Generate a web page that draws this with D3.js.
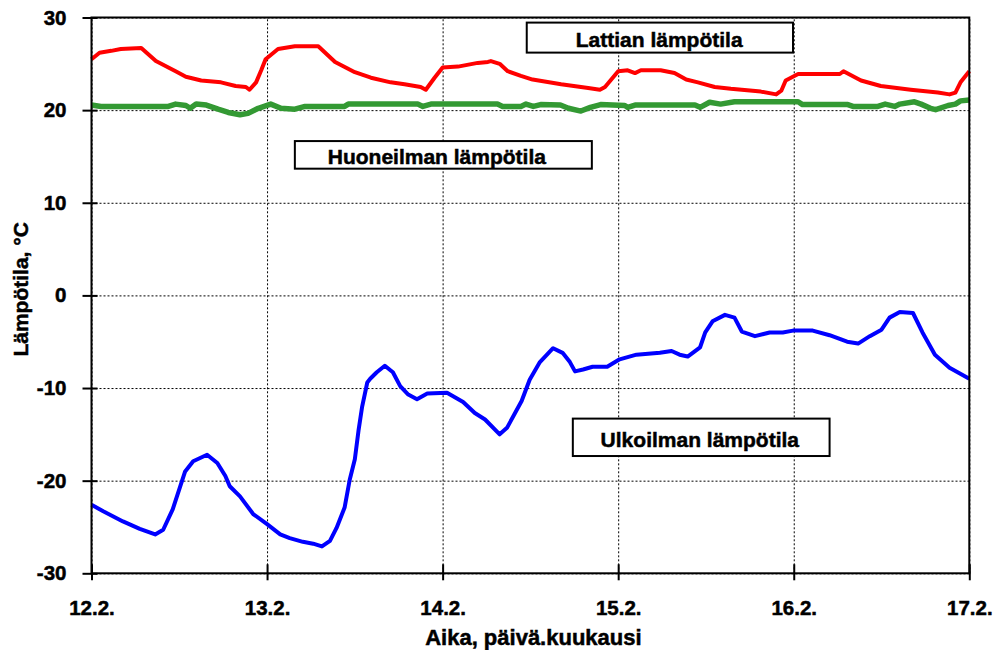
<!DOCTYPE html>
<meta charset="utf-8">
<style>
body { margin: 0; background: #fff; }
text { font-family: Arial, "Liberation Sans", sans-serif; font-weight: bold; fill: #000; stroke: #000; stroke-width: 0.5px; }
.grid line { stroke: #000; stroke-width: 1; stroke-dasharray: 2,2; }
.grid path { display: none; }
.axis path { display: none; }
.axis line { stroke: #000; stroke-width: 2; }
.axis text { font-size: 20.5px; font-weight: bold; font-family: Arial, "Liberation Sans", sans-serif; }
.series { fill: none; stroke-linejoin: round; stroke-linecap: butt; }
.label rect { fill: #fff; stroke: #000; stroke-width: 2; }
.label text { font-size: 21px; stroke-width: 0.5px; }
</style>
<svg width="995" height="650"></svg>
<script src="https://d3js.org/d3.v7.min.js"></script>
<script>

// time in hours from 12.2. 00:00, temperature in °C
var xTicks = [0, 24, 48, 72, 96, 120];
var xTickLabels = ["12.2.", "13.2.", "14.2.", "15.2.", "16.2.", "17.2."];
var yTicks = [-30, -20, -10, 0, 10, 20, 30];

var floorTemp = [
  [0,25.5],[1.1,26.2],[2.7,26.4],[4,26.6],[6.8,26.7],[8.8,25.3],[11.5,24.2],[12.9,23.6],
  [15,23.2],[17.7,23.0],[19.7,22.6],[21.1,22.5],[21.6,22.2],[22.5,23.0],[23.2,24.3],[23.8,25.5],
  [25.5,26.6],[27.8,26.9],[31,26.9],[33.3,25.2],[36,24.1],[38.2,23.5],[40.9,23.0],[42.8,22.8],
  [45,22.5],[45.7,22.2],[46.9,23.5],[48,24.6],[50.1,24.7],[52.8,25.1],[54.2,25.2],[54.6,25.3],
  [55.8,25.0],[56.9,24.2],[58.7,23.7],[60.3,23.3],[64.2,22.8],[67.9,22.4],[69.5,22.2],[70.2,22.5],
  [72,24.2],[73.3,24.3],[74.3,24.0],[75.1,24.3],[77.8,24.3],[79.7,24.0],[81.3,23.3],[82.9,23.0],
  [85.2,22.5],[87.4,22.3],[91.5,22.0],[93.6,21.7],[94.3,22.1],[94.9,23.2],[96.6,23.9],[99.3,23.9],
  [102.3,23.9],[102.8,24.2],[105.2,23.2],[107.9,22.6],[112,22.2],[115.7,21.9],[117.3,21.7],
  [118.1,21.9],[118.8,23.0],[120,24.2]
];

var roomTemp = [
  [0,20.55],[1.3,20.4],[10.5,20.4],[11.5,20.65],[12.9,20.5],[13.5,20.2],[14.3,20.65],[15.7,20.55],
  [17.3,20.1],[18.7,19.75],[20.3,19.5],[21.4,19.65],[22.8,20.2],[24.5,20.65],[25.9,20.2],[27.8,20.1],
  [29.2,20.4],[34.6,20.4],[35.1,20.65],[44.6,20.65],[45.3,20.4],[46.4,20.65],[55.5,20.65],[56.2,20.4],
  [58.7,20.4],[59.4,20.65],[60.4,20.4],[61.4,20.6],[64.1,20.55],[65.2,20.2],[66.9,19.9],[68.2,20.3],
  [69.6,20.6],[72.9,20.5],[73.3,20.3],[74.3,20.55],[82.5,20.55],[83.2,20.3],[84.5,20.85],[86,20.65],
  [87.9,20.9],[96.6,20.9],[97.2,20.6],[103.4,20.6],[104.1,20.4],[107.5,20.4],[108.5,20.65],[109.8,20.4],
  [110.5,20.65],[112.5,20.9],[113.4,20.65],[114.7,20.2],[115.4,20.05],[117.1,20.5],[118.1,20.65],
  [118.8,21.0],[120,21.1]
];

var outdoorTemp = [
  [0,-22.6],[1.6,-23.3],[4.3,-24.4],[6.6,-25.2],[8.7,-25.8],[9.8,-25.3],[11.1,-23.1],[12.8,-19.0],
  [13.9,-17.9],[15.8,-17.2],[17.2,-18.1],[18.3,-19.5],[18.9,-20.6],[20.3,-21.7],[22.1,-23.6],[24,-24.7],
  [25.8,-25.8],[27.1,-26.2],[28.9,-26.6],[30.3,-26.8],[31.5,-27.1],[32.6,-26.5],[33.5,-25.1],[34.6,-22.9],
  [35.3,-19.9],[36,-17.7],[36.5,-14.6],[37,-12.0],[37.7,-9.4],[38.1,-9.0],[39,-8.3],[40.1,-7.6],
  [41.2,-8.3],[42.2,-9.8],[43.3,-10.7],[44.5,-11.2],[45.9,-10.6],[48.6,-10.5],[50.8,-11.5],[52.4,-12.7],
  [53.8,-13.4],[55.8,-15.0],[56.8,-14.3],[58.8,-11.4],[59.9,-9.1],[61.3,-7.2],[63.1,-5.7],[64.4,-6.2],
  [65.4,-7.2],[66.1,-8.2],[67.2,-8.0],[68.5,-7.7],[70.5,-7.7],[72.2,-6.9],[74.5,-6.4],[77.7,-6.2],
  [79.3,-6.0],[80.4,-6.4],[81.5,-6.6],[83.2,-5.6],[83.9,-4.0],[84.9,-2.8],[86.6,-2.1],[87.9,-2.4],
  [88.9,-3.9],[90.7,-4.4],[92.7,-4.0],[94.5,-4.0],[95.9,-3.8],[98.6,-3.8],[100.9,-4.3],[103.3,-5.0],
  [104.8,-5.2],[106.4,-4.4],[108,-3.7],[109.1,-2.4],[110.5,-1.8],[112.3,-1.9],[113.6,-4.0],[115.3,-6.4],
  [117.3,-7.8],[120,-9.0]
];

var svg = d3.select("svg"),
    margin = {top: 17.5, right: 25.7, bottom: 76.7, left: 91.5},
    width = +svg.attr("width") - margin.left - margin.right,
    height = +svg.attr("height") - margin.top - margin.bottom,
    g = svg.append("g").attr("transform", "translate(" + margin.left + "," + margin.top + ")");

var x = d3.scaleLinear().domain([0, 120]).range([0, width]);
var y = d3.scaleLinear().domain([-30, 30]).range([height, 0]);

// dotted grid
g.append("g")
    .attr("class", "grid")
    .call(d3.axisLeft(y).tickValues(yTicks).tickSize(-width).tickFormat(""));
g.append("g")
    .attr("class", "grid")
    .attr("transform", "translate(0," + height + ")")
    .call(d3.axisBottom(x).tickValues(xTicks).tickSize(-height).tickFormat(""));

var line = d3.line()
    .x(function(d) { return x(d[0]); })
    .y(function(d) { return y(d[1]); });

g.append("path").datum(roomTemp).attr("class", "series")
    .attr("stroke", "#339933").attr("stroke-width", 5.5).attr("d", line);
g.append("path").datum(floorTemp).attr("class", "series")
    .attr("stroke", "#ff0000").attr("stroke-width", 4).attr("d", line);
g.append("path").datum(outdoorTemp).attr("class", "series")
    .attr("stroke", "#0000ff").attr("stroke-width", 4).attr("d", line);

// frame
g.append("rect")
    .attr("width", width).attr("height", height)
    .attr("fill", "none").attr("stroke", "#000").attr("stroke-width", 2);

// axes with crossing ticks
var yAxis = g.append("g")
    .attr("class", "axis")
    .call(d3.axisLeft(y).tickValues(yTicks).tickSize(9).tickPadding(16)
      .tickFormat(function(d) { return String(d); }));
yAxis.selectAll(".tick line").attr("x1", 6);

var xAxis = g.append("g")
    .attr("class", "axis")
    .attr("transform", "translate(0," + height + ")")
    .call(d3.axisBottom(x).tickValues(xTicks).tickSize(7).tickPadding(20)
      .tickFormat(function(d, i) { return xTickLabels[i]; }));
xAxis.selectAll(".tick line").attr("y1", -9);
xAxis.selectAll(".tick text, .tick text").attr("stroke", "#000");
yAxis.selectAll(".tick text").attr("stroke", "#000");

// axis titles
svg.append("text")
    .attr("x", margin.left + width / 2 + 3).attr("y", 645)
    .attr("text-anchor", "middle").style("font-size", "22px")
    .text("Aika, päivä.kuukausi");
svg.append("text")
    .attr("transform", "translate(28," + (margin.top + height / 2 - 6) + ") rotate(-90)")
    .attr("text-anchor", "middle").style("font-size", "21px")
    .text("Lämpötila, °C");

// series labels: box left (h), top (°C), width (h), height (°C), text offset (h)
var labels = [
  {text: "Lattian lämpötila", x: 59.5, y: 29.45, w: 36.4, h: 3.24, tx: 6.7},
  {text: "Huoneilman lämpötila", x: 27.8, y: 16.66, w: 40.6, h: 2.98, tx: 4.5},
  {text: "Ulkoilman lämpötila", x: 65.8, y: -13.3, w: 35.1, h: 4.04, tx: 3.8}
];
labels.forEach(function(l) {
  var lg = g.append("g").attr("class", "label")
      .attr("transform", "translate(" + x(l.x) + "," + y(l.y) + ")");
  lg.append("rect").attr("width", x(l.w) - x(0)).attr("height", y(0) - y(l.h));
  lg.append("text")
      .attr("x", x(l.tx) - x(0))
      .attr("y", (y(0) - y(l.h)) / 2 + 2)
      .attr("dy", "0.36em")
      .text(l.text);
});

</script>
